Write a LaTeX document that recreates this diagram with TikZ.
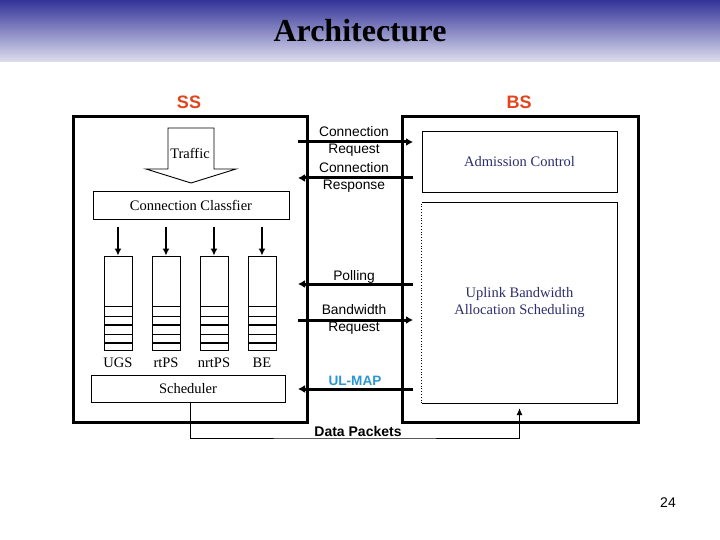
\documentclass[tikz,border=0pt]{standalone}
\usepackage{fontspec}
\setmainfont{Liberation Serif}
\setsansfont{Liberation Sans}
\usetikzlibrary{arrows.meta}
\definecolor{barTop}{RGB}{51,51,153}
\definecolor{barBot}{RGB}{222,222,238}
\definecolor{sideRed}{RGB}{228,68,28}
\definecolor{navyTxt}{RGB}{45,45,110}
\definecolor{mapBlue}{RGB}{45,150,210}
\tikzset{
  bigbox/.style={draw, line width=3pt, inner sep=0pt},
  thinbox/.style={draw, line width=0.9pt, inner sep=0pt},
  queuebox/.style={draw, line width=0.9pt, inner sep=0pt, minimum width=28pt, minimum height=94pt},
  msgarrow/.style={line width=3pt, -{Latex[length=7pt,width=8pt]}},
  downarrow/.style={line width=1.8pt, -{Latex[length=7pt,width=7pt]}},
  serif/.style={font=\rmfamily\fontsize{14.5}{17}\selectfont},
  sanstxt/.style={font=\sffamily\fontsize{13.8}{17.5}\selectfont, align=center},
  sidelabel/.style={font=\sffamily\bfseries\fontsize{18}{20}\selectfont, text=sideRed},
}
\begin{document}
\begin{tikzpicture}[x=1pt,y=-1pt]
\useasboundingbox (0,0) rectangle (720,540);
\fill[white] (0,0) rectangle (720,540);
% title bar
\shade[top color=barTop, bottom color=barBot] (0,0) rectangle (720,62);
\node[font=\rmfamily\bfseries\fontsize{32}{36}\selectfont] (title) at (360,31) {Architecture};

% side labels
\node[sidelabel] (sslab) at (189,102) {SS};
\node[sidelabel] (bslab) at (519,102) {BS};

% main boxes
\node[bigbox, minimum width=234pt, minimum height=305pt] (ss) at (190,269.5) {};
\node[bigbox, minimum width=236pt, minimum height=305pt] (bs) at (520,269.5) {};

% Traffic block arrow
\draw[line width=0.9pt, fill=white] (168,128) -- (214,128) -- (214,169) -- (236,169) -- (191,183) -- (146,169) -- (168,169) -- cycle;
\node[serif] (traffic) at (190,153) {Traffic};

% classifier
\node[thinbox, serif, minimum width=196pt, minimum height=28pt] (clf) at (191,205) {Connection Classfier};

% queues
\foreach \i/\x/\lab in {1/118/UGS, 2/166/rtPS, 3/214/nrtPS, 4/262/BE} {
  \node[queuebox] (q\i) at (\x,303) {};
  \draw[line width=0.9pt] (\x-14,306) -- (\x+14,306);
  \draw[line width=0.9pt] (\x-14,316) -- (\x+14,316);
  \draw[line width=2pt] (\x-14,325) -- (\x+14,325);
  \draw[line width=0.9pt] (\x-14,334) -- (\x+14,334);
  \draw[line width=2pt] (\x-14,343) -- (\x+14,343);
  \draw[downarrow] ([yshift=29pt]q\i.north) -- (q\i.north);
  \node[serif] (ql\i) at (\x,363) {\lab};
}

% scheduler
\node[thinbox, serif, minimum width=194pt, minimum height=27pt] (sched) at (188,388.5) {Scheduler};

% BS inner boxes
\node[thinbox, minimum width=195pt, minimum height=61pt, font=\rmfamily\fontsize{14.5}{17}\selectfont, text=navyTxt] (adm) at (519.5,161.5) {Admission Control};
\node[inner sep=0pt, minimum width=195pt, minimum height=200pt, align=center, font=\rmfamily\fontsize{14.5}{17}\selectfont, text=navyTxt] (upl) at (519.5,303) {Uplink Bandwidth\\Allocation Scheduling};
\draw[line width=0.9pt] (upl.north west) -- (upl.north east) -- (upl.south east) -- (upl.south west);
\draw[line width=0.8pt, dotted] (upl.south west) -- (upl.north west);

% messages
\coordinate (crL) at (298,142); \coordinate (crR) at (413,142);
\coordinate (rsL) at (298,178); \coordinate (rsR) at (413,178);
\coordinate (poL) at (298,284); \coordinate (poR) at (413,284);
\coordinate (brL) at (298,320); \coordinate (brR) at (413,320);
\coordinate (umL) at (298,389); \coordinate (umR) at (413,389);
\draw[msgarrow] (crL) -- (crR);
\draw[msgarrow] (rsR) -- (rsL);
\draw[msgarrow] (poR) -- (poL);
\draw[msgarrow] (brL) -- (brR);
\draw[msgarrow] (umR) -- (umL);
\node[sanstxt] (crt) at (354,141.5) {Connection\\Request};
\node[sanstxt] (rst) at (354,177.5) {Connection\\Response};
\node[sanstxt] (pot) at (354,277) {Polling};
\node[sanstxt] (brt) at (354,319.5) {Bandwidth\\Request};
\node[font=\sffamily\bfseries\fontsize{13.6}{16}\selectfont, text=mapBlue] (umt) at (355,381) {UL-MAP};

% data packets
\coordinate (dp) at (355,438);
\draw[line width=0.9pt, -{Latex[length=7pt,width=6pt]}] ([xshift=2pt]sched.south) |- (dp) -| ([yshift=-5pt]upl.south);
\node[font=\sffamily\bfseries\fontsize{14}{16}\selectfont] (dpt) at (358,431) {Data Packets};

% page number
\node[font=\sffamily\fontsize{14}{16}\selectfont] (pg) at (668,503) {24};
\end{tikzpicture}
\end{document}
